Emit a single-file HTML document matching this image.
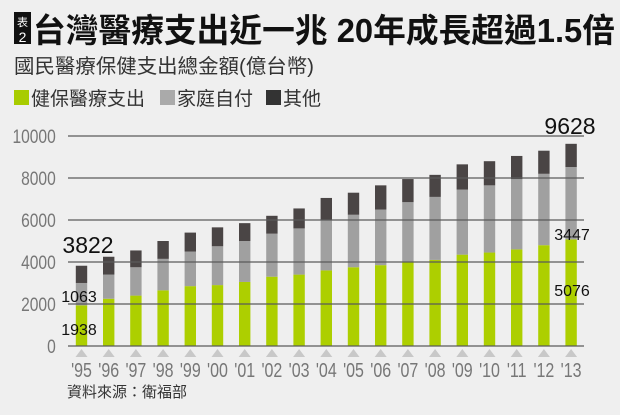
<!DOCTYPE html>
<html><head><meta charset="utf-8"><style>
body{margin:0;background:#efefef;}
svg{display:block;font-family:"Liberation Sans","Noto Sans CJK TC",sans-serif;}
</style></head><body>
<svg width="620" height="415" viewBox="0 0 620 415" xmlns="http://www.w3.org/2000/svg">
<rect width="620" height="415" fill="#efefef"/>
<rect x="14" y="12" width="17" height="32" fill="#111"/>
<text x="22.5" y="26" font-size="11" fill="#fff" text-anchor="middle">表</text>
<text x="22.5" y="42" font-size="14" fill="#fff" text-anchor="middle">2</text>
<text x="33" y="42" font-size="33" font-weight="bold" fill="#111" textLength="582" lengthAdjust="spacingAndGlyphs">台灣醫療支出近一兆  20年成長超過1.5倍</text>
<text x="14" y="73" font-size="20" fill="#333" textLength="300" lengthAdjust="spacingAndGlyphs">國民醫療保健支出總金額(億台幣)</text>
<rect x="14" y="90" width="15" height="15" fill="#a8cc00"/>
<text x="31" y="105" font-size="19" fill="#333">健保醫療支出</text>
<rect x="160" y="90" width="15" height="15" fill="#aaa"/>
<text x="177" y="105" font-size="19" fill="#333">家庭自付</text>
<rect x="266" y="90" width="15" height="15" fill="#333"/>
<text x="283" y="105" font-size="19" fill="#333">其他</text>
<g font-size="19" fill="#777" text-anchor="end" transform="scale(0.82,1)">
<text x="68" y="353">0</text><text x="68" y="311">2000</text><text x="68" y="269">4000</text><text x="68" y="227">6000</text><text x="68" y="185">8000</text><text x="68" y="143">10000</text>
</g>
<g id="bars"></g>
<g stroke="#5a5a5a" stroke-width="1.3">
<line x1="68" x2="584" y1="346" y2="346"/><line x1="68" x2="584" y1="304" y2="304"/><line x1="68" x2="584" y1="262" y2="262"/><line x1="68" x2="584" y1="220" y2="220"/><line x1="68" x2="584" y1="178" y2="178"/><line x1="68" x2="584" y1="136" y2="136"/>
</g>
<g id="tri"></g>
<g id="labs" font-size="20" fill="#777" text-anchor="middle" transform="scale(0.8,1)"></g>
<g font-size="16" fill="#111" text-anchor="middle">
<text x="79" y="302">1063</text><text x="79" y="335">1938</text>
<text x="572" y="240">3447</text><text x="572" y="296">5076</text>
</g>
<text x="88" y="253" font-size="23" fill="#111" text-anchor="middle">3822</text>
<text x="570" y="134" font-size="23" fill="#111" text-anchor="middle">9628</text>
<text x="67" y="397" font-size="15" fill="#333">資料來源：衛福部</text>
<script>
var T=[3822,4250,4550,5000,5400,5650,5850,6200,6550,7050,7300,7650,7950,8150,8650,8800,9050,9300,9628];
var G=[1938,2250,2400,2650,2850,2900,3050,3300,3400,3600,3750,3850,4000,4100,4350,4450,4600,4800,5076];
var M=[3001,3400,3750,4150,4500,4750,5000,5350,5600,6000,6250,6500,6850,7100,7450,7650,7950,8200,8523];
var Y=["'95","'96","'97","'98","'99","'00","'01","'02","'03","'04","'05","'06","'07","'08","'09","'10","'11","'12","'13"];
var ns="http://www.w3.org/2000/svg",b=document.getElementById("bars"),l=document.getElementById("labs"),tr=document.getElementById("tri");
function r(x,y1,y2,c){var e=document.createElementNS(ns,"rect");e.setAttribute("x",x-5.7);e.setAttribute("width",11.4);e.setAttribute("y",y2);e.setAttribute("height",y1-y2);e.setAttribute("fill",c);b.appendChild(e);}
function py(v){return 346-v*0.021;}
for(var i=0;i<19;i++){var cx=81.5+i*27.2;
r(cx,346,py(G[i]),"#adcf00");r(cx,py(G[i]),py(M[i]),"#a0a0a0");r(cx,py(M[i]),py(T[i]),"#4a4545");
var p=document.createElementNS(ns,"polygon");p.setAttribute("points",(cx-6)+",357 "+(cx+6)+",357 "+cx+",349");p.setAttribute("fill","#c8c8c8");tr.appendChild(p);
var t=document.createElementNS(ns,"text");t.setAttribute("x",cx/0.8);t.setAttribute("y",377);t.textContent=Y[i];l.appendChild(t);}
</script>
</svg>
</body></html>
